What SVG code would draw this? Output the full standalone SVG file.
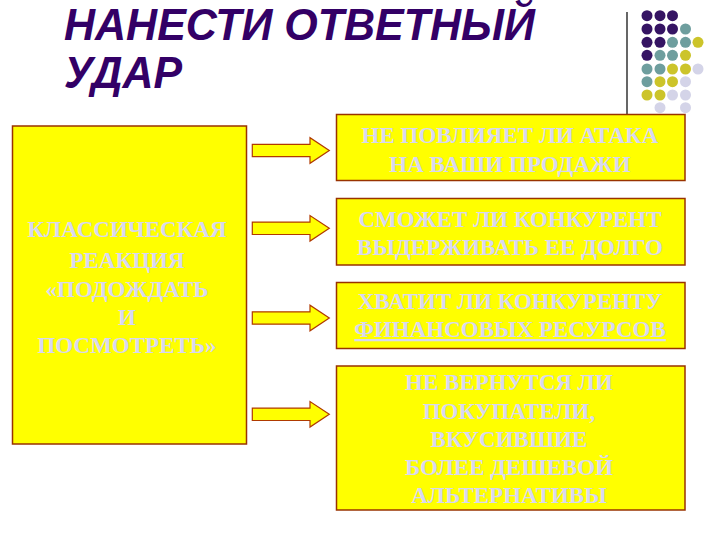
<svg xmlns="http://www.w3.org/2000/svg" xmlns:xlink="http://www.w3.org/1999/xlink" width="720" height="540" viewBox="0 0 720 540">
  <style>
    .title { font-family: "Liberation Sans", Arial, sans-serif; font-weight: bold; font-style: italic; font-size: 44px; fill: #330066; }
    .box { fill: #FFFF00; stroke: #993300; stroke-width: 1.5; }
    .txt { font-family: "Liberation Serif", "Times New Roman", serif; font-weight: bold; font-size: 23px; fill: #D8D8F0; text-anchor: middle; }
    .arrow { fill: #FFFF00; stroke: #B03A00; stroke-width: 1.2; stroke-linejoin: miter; }
    .dp { fill: #351463; }
    .dt { fill: #6E9E9E; }
    .dy { fill: #CCC42A; }
    .dl { fill: #D4D4E8; }
  </style>
  <defs>
    <polygon id="arr" points="0,-6.2 57.7,-6.2 57.7,-12.8 77,0 57.7,12.8 57.7,6.2 0,6.2"/>
  </defs>
  <rect width="720" height="540" fill="#FFFFFF"/>

  <g id="title">
    <text class="title" x="64" y="40" textLength="471" lengthAdjust="spacingAndGlyphs">НАНЕСТИ ОТВЕТНЫЙ</text>
    <text class="title" x="64" y="88" textLength="118" lengthAdjust="spacingAndGlyphs">УДАР</text>
  </g>

  <g id="decor">
    <line x1="627" y1="12" x2="627" y2="116" stroke="#000000" stroke-width="1.2"/>
    <circle class="dp" cx="647" cy="15.7" r="5.5"/><circle class="dp" cx="660" cy="15.7" r="5.5"/><circle class="dp" cx="672.5" cy="15.7" r="5.5"/>
    <circle class="dp" cx="647" cy="29" r="5.5"/><circle class="dp" cx="660" cy="29" r="5.5"/><circle class="dp" cx="672.5" cy="29" r="5.5"/><circle class="dt" cx="685.5" cy="29" r="5.5"/>
    <circle class="dp" cx="647" cy="42.3" r="5.5"/><circle class="dp" cx="660" cy="42.3" r="5.5"/><circle class="dt" cx="672.5" cy="42.3" r="5.5"/><circle class="dt" cx="685.5" cy="42.3" r="5.5"/><circle class="dy" cx="698" cy="42.3" r="5.5"/>
    <circle class="dp" cx="647" cy="55.3" r="5.5"/><circle class="dt" cx="660" cy="55.3" r="5.5"/><circle class="dt" cx="672.5" cy="55.3" r="5.5"/><circle class="dy" cx="685.5" cy="55.3" r="5.5"/>
    <circle class="dt" cx="647" cy="69" r="5.5"/><circle class="dt" cx="660" cy="69" r="5.5"/><circle class="dy" cx="672.5" cy="69" r="5.5"/><circle class="dy" cx="685.5" cy="69" r="5.5"/><circle class="dl" cx="698" cy="69" r="5.5"/>
    <circle class="dt" cx="647" cy="81.7" r="5.5"/><circle class="dy" cx="660" cy="81.7" r="5.5"/><circle class="dy" cx="672.5" cy="81.7" r="5.5"/><circle class="dl" cx="685.5" cy="81.7" r="5.5"/>
    <circle class="dy" cx="647" cy="95" r="5.5"/><circle class="dy" cx="660" cy="95" r="5.5"/><circle class="dl" cx="672.5" cy="95" r="5.5"/><circle class="dl" cx="685.5" cy="95" r="5.5"/>
    <circle class="dl" cx="660" cy="107.7" r="5.5"/><circle class="dl" cx="685.5" cy="107.7" r="5.5"/>
  </g>

  <g id="classic">
    <rect class="box" x="12.5" y="126" width="234" height="318"/>
    <text class="txt" x="127" y="236.5">КЛАССИЧЕСКАЯ</text>
    <text class="txt" x="127" y="268">РЕАКЦИЯ</text>
    <text class="txt" x="127" y="296.5">«ПОДОЖДАТЬ</text>
    <text class="txt" x="127" y="325">И</text>
    <text class="txt" x="127" y="353">ПОСМОТРЕТЬ»</text>
  </g>

  <g id="q1">
    <rect class="box" x="336.5" y="114.5" width="348.5" height="66"/>
    <text class="txt" x="510" y="143">НЕ ПОВЛИЯЕТ ЛИ АТАКА</text>
    <text class="txt" x="510" y="171.5">НА ВАШИ ПРОДАЖИ</text>
  </g>

  <g id="q2">
    <rect class="box" x="336.5" y="198.5" width="348.5" height="66.5"/>
    <text class="txt" x="510" y="226.5">СМОЖЕТ ЛИ КОНКУРЕНТ</text>
    <text class="txt" x="510" y="254.5">ВЫДЕРЖИВАТЬ ЕЕ ДОЛГО</text>
  </g>

  <g id="q3">
    <rect class="box" x="336.5" y="282.5" width="348.5" height="66"/>
    <text class="txt" x="510" y="309">ХВАТИТ ЛИ КОНКУРЕНТУ</text>
    <text class="txt" x="510" y="337" text-decoration="underline">ФИНАНСОВЫХ РЕСУРСОВ</text>
  </g>

  <g id="q4">
    <rect class="box" x="336.5" y="366" width="348.5" height="144"/>
    <text class="txt" x="509" y="390">НЕ ВЕРНУТСЯ ЛИ</text>
    <text class="txt" x="509" y="418.5">ПОКУПАТЕЛИ,</text>
    <text class="txt" x="509" y="447">ВКУСИВШИЕ</text>
    <text class="txt" x="509" y="475">БОЛЕЕ ДЕШЕВОЙ</text>
    <text class="txt" x="509" y="503">АЛЬТЕРНАТИВЫ</text>
  </g>

  <g id="connectors">
    <use xlink:href="#arr" href="#arr" class="arrow" transform="translate(252.3,150.5)"/>
    <use xlink:href="#arr" href="#arr" class="arrow" transform="translate(252.3,228.3)"/>
    <use xlink:href="#arr" href="#arr" class="arrow" transform="translate(252.3,318)"/>
    <use xlink:href="#arr" href="#arr" class="arrow" transform="translate(252.3,414.3)"/>
  </g>
</svg>
